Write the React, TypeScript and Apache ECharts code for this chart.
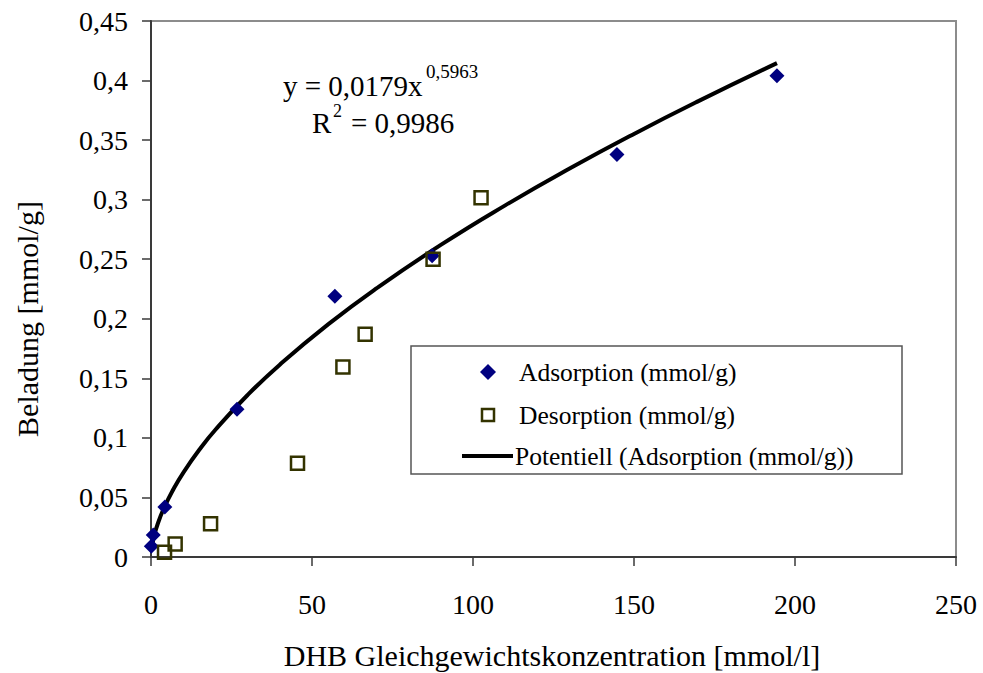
import React, { useEffect, useRef } from "react";
import * as echarts from "echarts";

const adsorptionX = [0.1, 0.7, 4.3, 26.7, 57.1, 87.3, 144.7, 194.4];
const adsorptionY = [0.009, 0.0185, 0.042, 0.124, 0.219, 0.253, 0.338, 0.404];

const desorptionX = [4.2, 7.5, 18.5, 45.5, 59.6, 66.5, 87.6, 102.5];
const desorptionY = [0.004, 0.011, 0.028, 0.0787, 0.1595, 0.187, 0.25, 0.3017];

// Trend line (Potentiell) points
const trendX = [0.3, 0.6, 1, 2, 4, 7, 10, 15, 20, 30, 40, 55, 70, 90, 110, 130, 150, 170, 194.4];
const trendY = [0.0087, 0.0132, 0.0179, 0.0271, 0.0409, 0.0571, 0.0707, 0.09, 0.1068, 0.136, 0.1615, 0.1953, 0.2255, 0.262, 0.2952, 0.3261, 0.3552, 0.3827, 0.4146];

const xTicks = [0, 50, 100, 150, 200, 250];
const yTicks = [0, 0.05, 0.1, 0.15, 0.2, 0.25, 0.3, 0.35, 0.4, 0.45];

const seriesNames = ["Adsorption (mmol/g)", "Desorption (mmol/g)", "Potentiell (Adsorption (mmol/g))"];
const equationText = "y = 0,0179x";
const exponentText = "0,5963";
const r2Base = "R";
const r2Sup = "2";
const r2Value = "= 0,9986";
const xTitle = "DHB Gleichgewichtskonzentration [mmol/l]";
const yTitle = "Beladung [mmol/g]";

const FONT = "Liberation Serif, Times New Roman, serif";
const fmt = (v: number) => Number(v.toFixed(2)).toString().replace(".", ",");

export default function App() {
  const ref = useRef<HTMLDivElement>(null);
  useEffect(() => {
    if (!ref.current) return;
    const chart = echarts.init(ref.current, undefined, { renderer: "svg" });
    const legendX = 411, legendY = 346, legendW = 491, legendH = 128;
    const txt = (text: string, x: number, y: number, fontSize: number, extra: any = {}) => ({
      type: "text", x, y, ...extra,
      style: { text, fontFamily: FONT, fontSize, fill: "#000", align: "left", verticalAlign: "middle" },
    });
    chart.setOption({
      animation: false,
      backgroundColor: "#ffffff",
      grid: {
        left: 151, top: 21, right: 27, bottom: 116,
        show: true, borderColor: "#8c8c8c", borderWidth: 2, backgroundColor: "#ffffff",
      },
      xAxis: {
        type: "value",
        min: xTicks[0], max: xTicks[xTicks.length - 1], interval: 50,
        axisLine: { show: true, onZero: false, lineStyle: { color: "#3a3a3a", width: 2 } },
        axisTick: { show: true, inside: false, length: 9, lineStyle: { color: "#3a3a3a", width: 1.5 } },
        axisLabel: { show: true, margin: 33, color: "#000", fontFamily: FONT, fontSize: 28, formatter: (v: number) => fmt(v) },
        splitLine: { show: false },
      },
      yAxis: {
        type: "value",
        min: yTicks[0], max: yTicks[yTicks.length - 1], interval: 0.05,
        axisLine: { show: true, onZero: false, lineStyle: { color: "#3a3a3a", width: 2 } },
        axisTick: { show: true, inside: false, length: 9, lineStyle: { color: "#3a3a3a", width: 1.5 } },
        axisLabel: { show: true, margin: 23, color: "#000", fontFamily: FONT, fontSize: 28, formatter: (v: number) => fmt(v) },
        splitLine: { show: false },
      },
      series: [
        {
          name: seriesNames[2],
          type: "line",
          data: trendX.map((x, i) => [x, trendY[i]]),
          showSymbol: false,
          smooth: true,
          lineStyle: { color: "#000", width: 4 },
          z: 2,
        },
        {
          name: seriesNames[0],
          type: "scatter",
          data: adsorptionX.map((x, i) => [x, adsorptionY[i]]),
          symbol: "diamond",
          symbolSize: 15,
          itemStyle: { color: "#000080", opacity: 1 },
          z: 3,
        },
        {
          name: seriesNames[1],
          type: "scatter",
          data: desorptionX.map((x, i) => [x, desorptionY[i]]),
          symbol: "rect",
          symbolSize: 13,
          itemStyle: { color: "rgba(0,0,0,0)", borderColor: "#333300", borderWidth: 2.5, opacity: 1 },
          z: 4,
        },
      ],
      graphic: [
        {
          type: "text", x: 27, y: 319, rotation: Math.PI / 2,
          style: { text: yTitle, fontFamily: FONT, fontSize: 30, fill: "#000", align: "center", verticalAlign: "middle" },
        },
        {
          type: "text", x: 552, y: 655,
          style: { text: xTitle, fontFamily: FONT, fontSize: 30, fill: "#000", align: "center", verticalAlign: "middle" },
        },
        txt(equationText, 283, 86, 29),
        txt(exponentText, 426, 71, 19),
        txt(r2Base, 312, 123, 29),
        txt(r2Sup, 333, 110.5, 18),
        txt(r2Value, 351, 123, 29),
        {
          type: "rect", shape: { x: legendX, y: legendY, width: legendW, height: legendH },
          style: { fill: "#ffffff", stroke: "#555555", lineWidth: 1.5 }, z: 10,
        },
        {
          type: "polygon", shape: { points: [[488, 364], [496, 372], [488, 380], [480, 372]] },
          style: { fill: "#000080" }, z: 11,
        },
        {
          type: "rect", shape: { x: 482, y: 409, width: 12, height: 12 },
          style: { fill: "none", stroke: "#333300", lineWidth: 2.5 }, z: 11,
        },
        {
          type: "line", shape: { x1: 462, y1: 456, x2: 513, y2: 456 },
          style: { stroke: "#000", lineWidth: 4 }, z: 11,
        },
        txt(seriesNames[0], 519, 372, 25.5, { z: 11 }),
        txt(seriesNames[1], 519, 415, 25.5, { z: 11 }),
        txt(seriesNames[2], 515, 456, 25.5, { z: 11 }),
      ],
    });
    return () => chart.dispose();
  }, []);
  return (
    <div
      ref={ref}
      style={{ position: "fixed", left: 0, top: 0, width: 983, height: 673, background: "#fff" }}
    />
  );
}
